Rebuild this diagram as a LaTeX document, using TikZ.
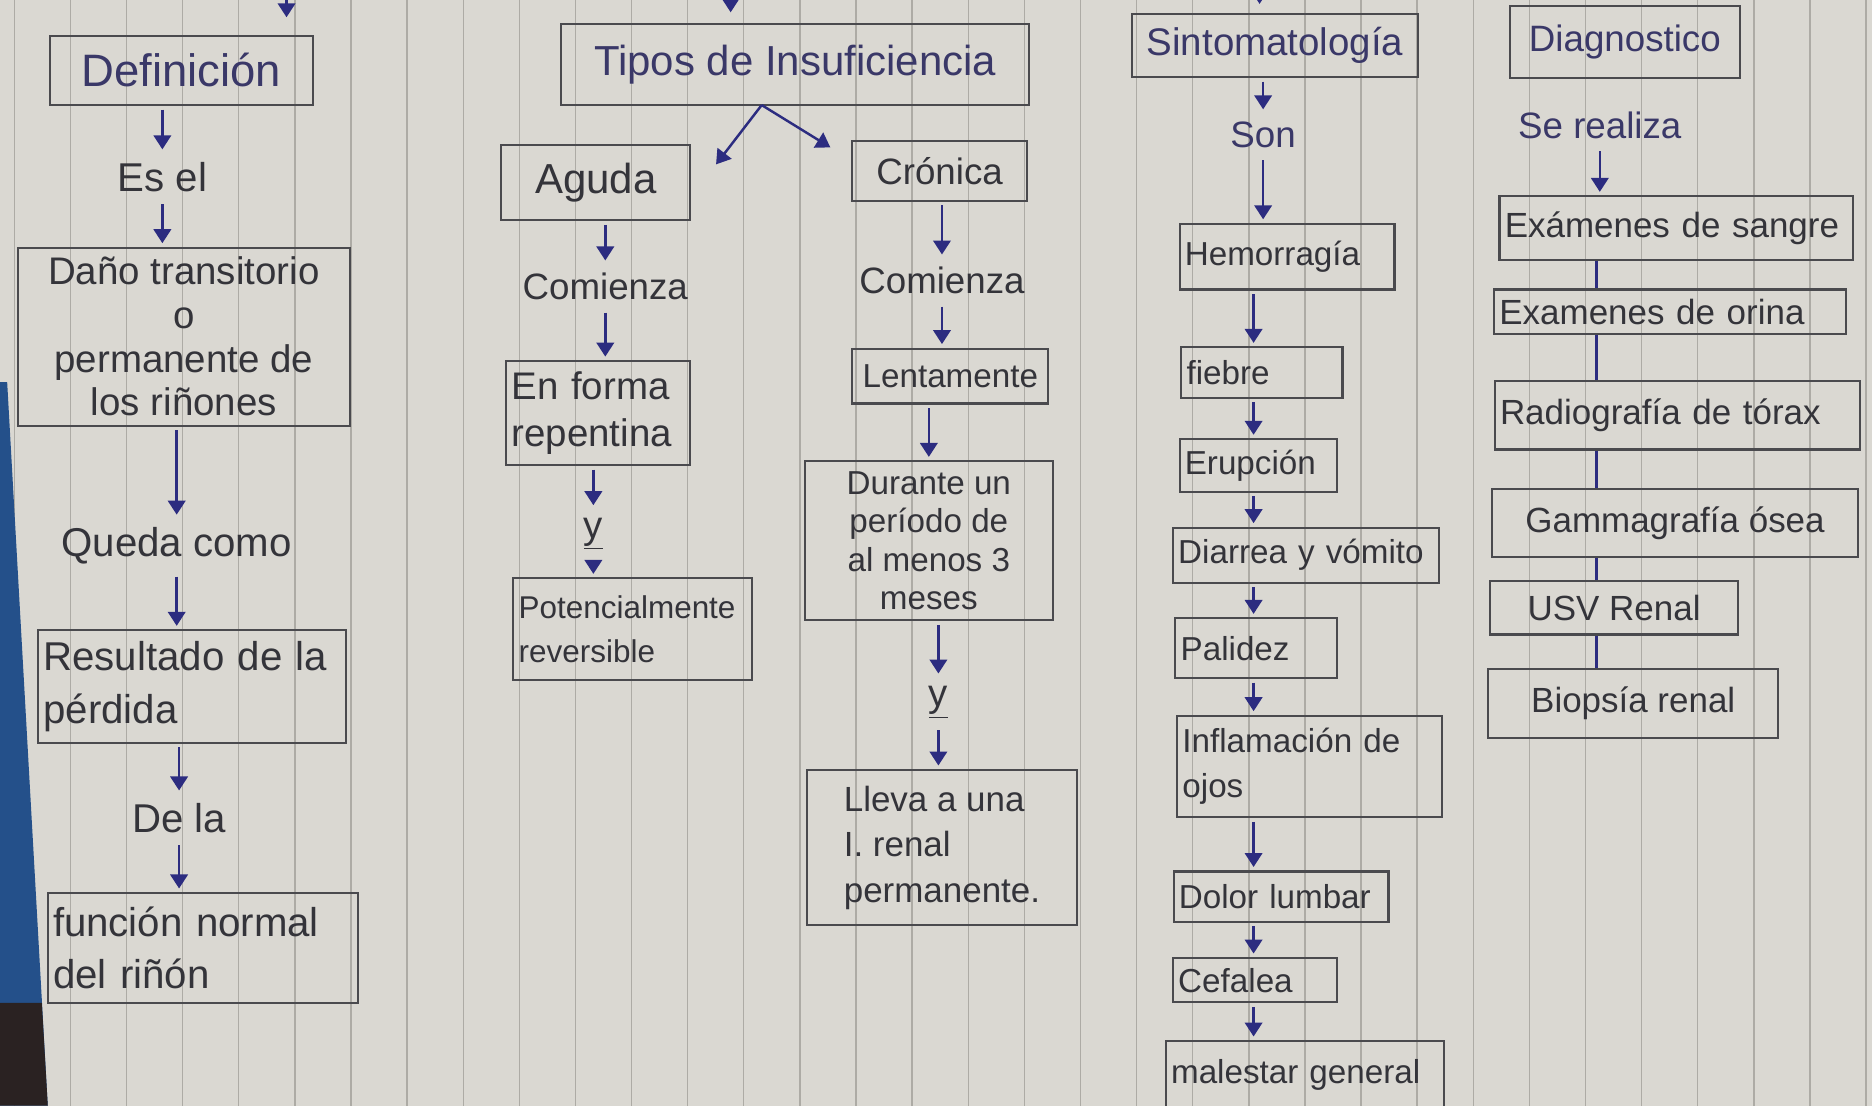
\documentclass[tikz,border=0pt]{standalone}
\usepackage{fontspec}
\setmainfont{Liberation Sans}
\usetikzlibrary{arrows.meta}
\definecolor{paperc}{HTML}{DAD8D2}
\definecolor{rulec}{HTML}{ADABA5}
\definecolor{boxc}{HTML}{4A4A4E}
\definecolor{inkc}{HTML}{34343A}
\definecolor{headc}{HTML}{3A3868}
\definecolor{arrc}{HTML}{2C2C80}
\definecolor{deskc}{HTML}{24508A}
\definecolor{darkc}{HTML}{2A2222}
\def\pxu{0.024cm}
\newcommand{\hw}[2]{\fontsize{#1}{#2}\selectfont}

\begin{document}
\begin{tikzpicture}
[x=0.024cm, y=-0.024cm, >={Triangle[width=10pt,length=8pt]},
box/.style={draw=boxc, line width=1.2pt, text=inkc, inner sep=3pt},
bx/.style 2 args={box, minimum width=#1*\pxu, minimum height=#2*\pxu, align=left},
lbx/.style 2 args={box, text width=#1*\pxu-6pt, minimum height=#2*\pxu, align=left},
lbl/.style={text=inkc, inner sep=5pt},
arr/.style={->, draw=arrc, line width=1.4pt, shorten <=2pt, shorten >=2pt},
lnk/.style={draw=arrc, line width=1.6pt},
rule/.style={draw=rulec, line width=0.8pt}]

\useasboundingbox (0,0) rectangle (1568,926);
\fill[paperc] (0,0) rectangle (1568,926);
\foreach \k in {0,...,33}
  \draw[rule] (12+47*\k,0) -- (12+47*\k,926);
\fill[deskc] (0,320) -- (6,320) -- (40,926) -- (0,926) -- cycle;
\fill[darkc] (0,840) -- (35,840) -- (40,926) -- (0,926) -- cycle;

% Definicion
\node[bx={220}{58}, text=headc, font=\hw{26}{30}] (def) at (152,59) {Definición};
\node[lbl, font=\hw{23}{28}] (esel) at (136,148) {Es el};
\node[bx={278}{149}, align=center, font=\hw{22}{25}] (dano) at (154,282) {Daño transitorio\\o\\permanente de\\los riñones};
\node[lbl, font=\hw{23}{28}] (queda) at (148,457) {Queda como};
\node[lbx={258}{94}, font=\hw{23}{30}] (res) at (161,575) {Resultado de la\\pérdida};
\node[lbl, font=\hw{23}{28}] (dela) at (150,685) {De la};
\node[lbx={260}{92}, font=\hw{23}{30}] (func) at (170,794) {función normal\\del riñón};

\coordinate (in1) at (240,-10);
\draw[arr, shorten >=10pt] (in1) -- (def.north -| in1);
\draw[arr] (def.south -| esel) -- (esel.north);
\draw[arr] (esel.south) -- (esel.south |- dano.north);
\draw[arr] (dano.south -| queda) -- (queda.north);
\draw[arr] (queda.south) -- (queda.south |- res.north);
\draw[arr] (res.south -| dela) -- (dela.north);
\draw[arr] (dela.south) -- (dela.south |- func.north);

% Tipos
\node[bx={392}{68}, text=headc, font=\hw{24}{28}] (tipos) at (666,54) {Tipos de Insuficiencia};
\node[bx={158}{63}, font=\hw{24}{28}] (aguda) at (499,153) {Aguda};
\node[lbl, font=\hw{21}{26}] (com1) at (507,240) {Comienza};
\node[lbx={154}{87}, font=\hw{22}{27}] (rep) at (501,346) {En forma\\repentina};
\node[lbl, font=\hw{22}{26}] (y1) at (497,447) {\underline{y}};
\node[lbx={200}{85}, font=\hw{18}{25}] (pot) at (530,527) {Potencialmente\\reversible};
\node[bx={146}{50}, font=\hw{21}{26}] (cron) at (787,143) {Crónica};
\node[lbl, font=\hw{21}{26}] (com2) at (789,235) {Comienza};
\node[bx={164}{46}, font=\hw{19}{24}] (lent) at (796,315) {Lentamente};
\node[bx={208}{133}, align=center, font=\hw{19}{22}] (dur) at (778,453) {Durante un\\período de\\al menos 3\\meses};
\node[lbl, font=\hw{22}{26}] (y2) at (786,588) {\underline{y}};
\node[bx={226}{130}, font=\hw{20}{26}] (lleva) at (789,710) {Lleva a una\\I. renal\\permanente.};

\coordinate (in2) at (612,-10);
\coordinate (split) at (638,88);
\coordinate (agt) at (598,140);
\coordinate (crt) at (698,125);
\draw[arr, shorten >=6pt] (in2) -- (tipos.north -| in2);
\draw[arr, shorten <=0pt] (split) -- (agt);
\draw[arr, shorten <=0pt] (split) -- (crt);
\draw[arr] (aguda.south -| com1) -- (com1.north);
\draw[arr] (com1.south) -- (com1.south |- rep.north);
\draw[arr] (rep.south -| y1) -- (y1.north);
\draw[arr] (y1.south) -- (y1.south |- pot.north);
\draw[arr] (cron.south -| com2) -- (com2.north);
\draw[arr] (com2.south) -- (com2.south |- lent.north);
\draw[arr] (lent.south -| dur.north) -- (dur.north);
\draw[arr] (dur.south -| y2) -- (y2.north);
\draw[arr] (y2.south) -- (y2.south |- lleva.north);

% Sintomatologia
\node[bx={240}{53}, text=headc, font=\hw{22}{26}] (sint) at (1068,38) {Sintomatología};
\node[lbl, text=headc, font=\hw{21}{26}] (son) at (1058,113) {Son};
\node[lbx={180}{55}, font=\hw{19}{24}] (hemo) at (1078,215) {Hemorragía};
\node[lbx={135}{42}, font=\hw{19}{24}] (fieb) at (1057,312) {fiebre};
\node[lbx={132}{44}, font=\hw{19}{24}] (erup) at (1054,390) {Erupción};
\node[lbx={223}{46}, font=\hw{19}{24}] (diar) at (1094,465) {Diarrea y vómito};
\node[lbx={135}{50}, font=\hw{19}{24}] (pal) at (1052,543) {Palidez};
\node[lbx={222}{85}, font=\hw{19}{26}] (infl) at (1097,642) {Inflamación de\\ojos};
\node[lbx={180}{42}, font=\hw{19}{24}] (dol) at (1073,751) {Dolor lumbar};
\node[lbx={137}{37}, font=\hw{19}{24}] (cef) at (1051,821) {Cefalea};
\node[lbx={233}{56}, font=\hw{19}{24}] (mal) at (1093,900) {malestar general};

\coordinate (in3) at (1055,-10);
\coordinate (ssp) at (1050,0);
\draw[arr, shorten >=5pt] (in3) -- (sint.north -| in3);
\draw[arr] (sint.south -| son) -- (son.north);
\draw[arr] (son.south) -- (son.south |- hemo.north);
\draw[arr] (hemo.south -| ssp) -- (fieb.north -| ssp);
\draw[arr] (fieb.south -| ssp) -- (erup.north -| ssp);
\draw[arr] (erup.south -| ssp) -- (diar.north -| ssp);
\draw[arr] (diar.south -| ssp) -- (pal.north -| ssp);
\draw[arr] (pal.south -| ssp) -- (infl.north -| ssp);
\draw[arr] (infl.south -| ssp) -- (dol.north -| ssp);
\draw[arr] (dol.south -| ssp) -- (cef.north -| ssp);
\draw[arr] (cef.south -| ssp) -- (mal.north -| ssp);

% Diagnostico
\node[bx={193}{60}, text=headc, font=\hw{21}{26}] (diag) at (1361,35) {Diagnostico};
\node[lbl, text=headc, font=\hw{21}{26}] (real) at (1340,105) {Se realiza};
\node[lbx={296}{53}, font=\hw{20}{24}] (exs) at (1404,191) {Exámenes de sangre};
\node[lbx={295}{37}, font=\hw{20}{24}] (exo) at (1399,261) {Examenes de orina};
\node[lbx={306}{57}, font=\hw{20}{24}] (rad) at (1405,348) {Radiografía de tórax};
\node[bx={306}{57}, font=\hw{20}{24}] (gam) at (1403,438) {Gammagrafía ósea};
\node[bx={208}{45}, font=\hw{20}{24}] (usv) at (1352,509) {USV Renal};
\node[bx={243}{58}, font=\hw{20}{24}] (bio) at (1368,589) {Biopsía renal};

\coordinate (dsp) at (1337,0);
\draw[arr] (real.south) -- (real.south |- exs.north);
\draw[lnk] (exs.south -| dsp) -- (exo.north -| dsp);
\draw[lnk] (exo.south -| dsp) -- (rad.north -| dsp);
\draw[lnk] (rad.south -| dsp) -- (gam.north -| dsp);
\draw[lnk] (gam.south -| dsp) -- (usv.north -| dsp);
\draw[lnk] (usv.south -| dsp) -- (bio.north -| dsp);
\end{tikzpicture}
\end{document}
